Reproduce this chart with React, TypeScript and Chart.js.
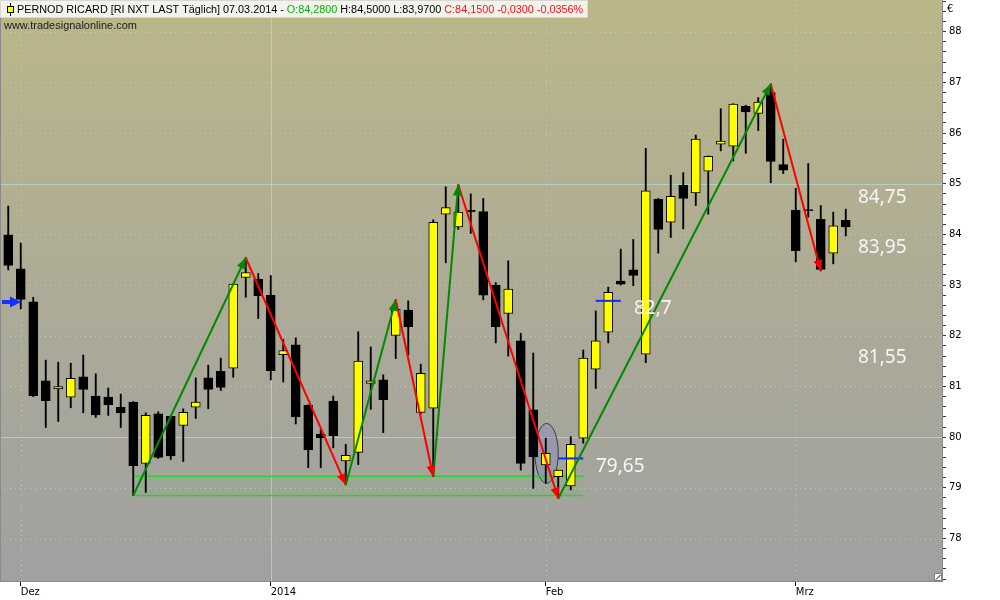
import React, { useEffect, useRef } from 'react';
import { Chart, registerables } from 'chart.js';

Chart.register(...registerables);

// ---- OHLC data (trading days 29.11.2013 – 07.03.2014) ----
const opens = [83.99, 83.32, 82.67, 81.11, 80.95, 80.79, 81.19, 80.81, 80.79, 80.59,
  80.69, 79.48, 80.46, 80.41, 80.23, 80.59, 81.17, 81.30, 81.36, 83.15,
  83.12, 82.80, 81.63, 81.82, 80.63, 80.06, 80.71, 79.53, 79.70, 81.06,
  81.13, 82.01, 82.51, 80.49, 80.57, 84.40, 84.15, 84.48, 84.45, 83.00,
  82.44, 81.90, 80.54, 79.45, 79.22, 79.04, 79.98, 81.34, 82.07, 83.08,
  83.30, 81.64, 84.70, 84.24, 84.97, 84.82, 85.25, 85.78, 85.74, 86.53,
  86.39, 86.80, 85.38, 84.48, 84.49, 84.30, 83.63, 84.28];
const highs = [84.56, 83.83, 82.76, 81.52, 81.48, 81.46, 81.62, 81.25, 80.97, 80.85,
  80.70, 80.48, 80.50, 80.42, 80.56, 81.17, 81.42, 81.56, 83.03, 83.54,
  83.23, 83.19, 81.93, 81.96, 80.64, 80.15, 80.81, 79.86, 82.08, 81.78,
  81.23, 82.71, 82.69, 81.44, 84.29, 84.94, 84.98, 84.80, 84.71, 83.05,
  83.48, 82.05, 81.66, 79.98, 79.35, 80.01, 81.72, 82.49, 82.96, 83.71,
  83.90, 85.70, 84.71, 85.17, 85.22, 85.96, 85.55, 86.48, 86.58, 86.55,
  86.70, 86.97, 85.88, 84.91, 85.40, 84.57, 84.44, 84.50];
const lows = [83.30, 82.53, 80.80, 80.19, 80.31, 80.58, 80.48, 80.39, 80.43, 80.19,
  78.85, 78.91, 79.58, 79.56, 79.52, 80.37, 80.56, 80.92, 81.18, 82.76,
  82.34, 81.13, 81.09, 80.26, 79.40, 79.40, 79.79, 79.06, 79.46, 80.55,
  80.09, 81.55, 81.62, 80.46, 79.22, 83.44, 84.10, 84.02, 82.71, 81.86,
  81.60, 79.35, 78.99, 79.09, 78.79, 78.96, 79.88, 80.96, 81.86, 83.00,
  82.99, 81.47, 83.63, 83.94, 84.11, 84.57, 84.40, 85.65, 85.45, 85.60,
  86.05, 85.02, 85.20, 83.46, 84.34, 83.28, 83.42, 83.97];
const closes = [83.39, 82.72, 80.82, 80.72, 81.00, 81.16, 80.94, 80.44, 80.64, 80.48,
  79.44, 80.43, 79.60, 79.63, 80.49, 80.69, 80.94, 80.98, 83.02, 83.25,
  82.79, 81.31, 81.71, 80.40, 79.75, 79.99, 80.03, 79.64, 81.50, 81.11,
  80.74, 82.52, 82.18, 81.26, 84.24, 84.53, 84.44, 84.45, 82.80, 82.18,
  82.92, 79.48, 79.61, 79.68, 79.35, 79.86, 81.56, 81.90, 82.86, 83.02,
  83.19, 84.86, 84.10, 84.75, 84.71, 85.88, 85.54, 85.84, 86.57, 86.42,
  86.61, 85.44, 85.27, 83.68, 84.47, 83.31, 84.17, 84.15];

// ---- axes ----
const xTickIndex = [1, 21, 43, 63];
const xTickLabels = ['Dez', '2014', 'Feb', 'Mrz'];
const xMin = -0.66;
const xMax = 74.7;
const yMin = 77.162;
const yMax = 88.626;
const yGridValues = [78, 79, 80, 81, 82, 83, 84, 85, 86, 87, 88];

// ---- zig-zag swings ----
const zigzagIndex = [10, 19, 27, 31, 34, 36, 44, 61, 65];
const zigzagValue = [78.85, 83.54, 79.06, 82.71, 79.22, 84.98, 78.79, 86.97, 83.28];

// ---- support band ----
const supportValues = [79.23, 78.85];
const supportFrom = 10;
const supportTo = 46;

// ---- blue level marks ----
const levelValues = [79.58, 82.69];
const levelFrom = [44, 47];
const levelTo = [46, 49];

// ---- text notes ----
const noteTexts = ['84,75', '83,95', '81,55', '79,65', '82,7'];
const noteIndex = [67.98, 67.98, 67.98, 47.02, 50.06];
const noteValues = [84.76, 83.77, 81.60, 79.45, 82.57];

// ---- markers ----
const markerFrom = -0.5;
const markerTo = 1.02;
const markerValue = 82.67;
const ellipseIndex = [42.14, 44.0];
const ellipseValue = [80.27, 79.09];

const titleParts = [
  { text: 'PERNOD RICARD [RI NXT LAST Täglich] 07.03.2014 - ', color: '#000000' },
  { text: 'O:84,2800', color: '#00b400' },
  { text: ' H:84,5000 L:83,9700 ', color: '#000000' },
  { text: 'C:84,1500 -0,0300 -0,0356%', color: '#ff1010' },
];
const siteText = 'www.tradesignalonline.com';

function arrowHead(ctx: CanvasRenderingContext2D, x0: number, y0: number, x1: number, y1: number, color: string, len = 11, hw = 4.5) {
  const dx = x1 - x0, dy = y1 - y0;
  const L = Math.hypot(dx, dy) || 1;
  const ux = dx / L, uy = dy / L;
  const bx = x1 - ux * len, by = y1 - uy * len;
  ctx.beginPath();
  ctx.moveTo(x1, y1);
  ctx.lineTo(bx - uy * hw, by + ux * hw);
  ctx.lineTo(bx + uy * hw, by - ux * hw);
  ctx.closePath();
  ctx.fillStyle = color;
  ctx.fill();
}

const decorPlugin = {
  id: 'decor',
  beforeDraw(chart: any) {
    const { ctx, chartArea: a } = chart;
    ctx.save();
    ctx.fillStyle = '#ffffff';
    ctx.fillRect(0, 0, chart.width, chart.height);
    const g = ctx.createLinearGradient(0, a.top, 0, a.bottom);
    g.addColorStop(0, '#bbb688');
    g.addColorStop(0.5, '#adab97');
    g.addColorStop(1, '#a0a0a0');
    ctx.fillStyle = g;
    ctx.fillRect(a.left, a.top, a.right - a.left, a.bottom - a.top);
    ctx.restore();
  },
  beforeDatasetsDraw(chart: any) {
    const { ctx, chartArea: a, scales } = chart;
    const xs = scales.x, ys = scales.y;
    ctx.save();
    ctx.lineWidth = 1;
    const solidColor = 'rgba(175,222,205,0.75)';
    const dotColor = 'rgba(185,222,210,0.7)';
    yGridValues.forEach((v) => {
      const y = Math.round(ys.getPixelForValue(v)) + 0.5;
      const solid = v % 5 === 0;
      ctx.setLineDash(solid ? [] : [1, 4]);
      ctx.strokeStyle = solid ? solidColor : dotColor;
      ctx.beginPath();
      ctx.moveTo(a.left, y);
      ctx.lineTo(a.right, y);
      ctx.stroke();
    });
    xTickIndex.forEach((v, i) => {
      const x = Math.round(xs.getPixelForValue(v)) + 0.5;
      const solid = xTickLabels[i] === '2014';
      ctx.setLineDash(solid ? [] : [1, 4]);
      ctx.strokeStyle = solid ? solidColor : dotColor;
      ctx.beginPath();
      ctx.moveTo(x, a.top);
      ctx.lineTo(x, a.bottom);
      ctx.stroke();
    });
    ctx.setLineDash([]);
    // highlight ellipse
    const ex0 = xs.getPixelForValue(ellipseIndex[0]);
    const ex1 = xs.getPixelForValue(ellipseIndex[1]);
    const ey0 = ys.getPixelForValue(ellipseValue[0]);
    const ey1 = ys.getPixelForValue(ellipseValue[1]);
    ctx.beginPath();
    ctx.ellipse((ex0 + ex1) / 2, (ey0 + ey1) / 2, Math.abs(ex1 - ex0) / 2, Math.abs(ey1 - ey0) / 2, 0, 0, Math.PI * 2);
    ctx.fillStyle = 'rgba(135,138,190,0.45)';
    ctx.fill();
    ctx.strokeStyle = '#3a3a48';
    ctx.lineWidth = 1;
    ctx.stroke();
    ctx.restore();
  },
  afterDatasetsDraw(chart: any) {
    const { ctx, scales } = chart;
    const xs = scales.x, ys = scales.y;
    ctx.save();
    for (let s = 0; s < zigzagIndex.length - 1; s++) {
      const x0 = xs.getPixelForValue(zigzagIndex[s]);
      const y0 = ys.getPixelForValue(zigzagValue[s]);
      const x1 = xs.getPixelForValue(zigzagIndex[s + 1]);
      const y1 = ys.getPixelForValue(zigzagValue[s + 1]);
      const up = zigzagValue[s + 1] > zigzagValue[s];
      arrowHead(ctx, x0, y0, x1, y1, up ? '#008a00' : '#ff0000');
    }
    // blue marker arrow
    const mx0 = xs.getPixelForValue(markerFrom);
    const mx1 = xs.getPixelForValue(markerTo);
    const my = Math.round(ys.getPixelForValue(markerValue));
    ctx.strokeStyle = '#1432ff';
    ctx.lineWidth = 4;
    ctx.beginPath();
    ctx.moveTo(mx0, my);
    ctx.lineTo(mx1 - 8, my);
    ctx.stroke();
    arrowHead(ctx, mx0, my, mx1, my, '#1432ff', 11, 5.5);
    // notes
    ctx.fillStyle = '#f6f6f6';
    ctx.font = '19px "Noto Sans", "DejaVu Sans", sans-serif';
    ctx.textAlign = 'left';
    ctx.textBaseline = 'alphabetic';
    noteTexts.forEach((t, i) => {
      const x = xs.getPixelForValue(noteIndex[i]);
      const y = ys.getPixelForValue(noteValues[i]);
      ctx.fillText(t, x, y + 7);
    });
    ctx.restore();
  },
  afterDraw(chart: any) {
    const { ctx, chartArea: a } = chart;
    ctx.save();
    // plot frame
    ctx.strokeStyle = '#8a8a8a';
    ctx.lineWidth = 1;
    ctx.beginPath();
    ctx.moveTo(a.left + 0.5, a.top);
    ctx.lineTo(a.left + 0.5, a.bottom + 0.5);
    ctx.lineTo(a.right + 0.5, a.bottom + 0.5);
    ctx.lineTo(a.right + 0.5, a.top);
    ctx.stroke();
    // corner icon
    ctx.fillStyle = '#ffffff';
    ctx.fillRect(a.right - 8, a.bottom - 8, 8, 8);
    ctx.strokeStyle = '#808080';
    ctx.strokeRect(a.right - 7.5, a.bottom - 7.5, 7, 7);
    ctx.strokeStyle = '#000';
    ctx.beginPath();
    ctx.moveTo(a.right - 6, a.bottom - 1.5);
    ctx.lineTo(a.right - 1.5, a.bottom - 6);
    ctx.stroke();
    // header box
    const boxW = 588, boxH = 18;
    ctx.fillStyle = '#f3f3ee';
    ctx.fillRect(0, 0, boxW, boxH);
    ctx.strokeStyle = '#d8d8d0';
    ctx.strokeRect(0.5, 0.5, boxW - 1, boxH - 1);
    // candle icon
    ctx.strokeStyle = '#000';
    ctx.beginPath();
    ctx.moveTo(10.5, 3);
    ctx.lineTo(10.5, 16);
    ctx.stroke();
    ctx.fillStyle = '#ffff00';
    ctx.fillRect(7.5, 6.5, 6, 6);
    ctx.strokeRect(7.5, 6.5, 6, 6);
    // title text fitted to width
    const family = '"Liberation Sans", Arial, sans-serif';
    ctx.font = `11px ${family}`;
    const full = titleParts.map((p) => p.text).join('');
    const w = ctx.measureText(full).width;
    const size = 11 * 567 / w;
    ctx.font = `${size}px ${family}`;
    ctx.textBaseline = 'middle';
    ctx.textAlign = 'left';
    let x = 17;
    titleParts.forEach((p) => {
      ctx.fillStyle = p.color;
      ctx.fillText(p.text, x, 10);
      x += ctx.measureText(p.text).width;
    });
    ctx.font = `11px ${family}`;
    const sw = ctx.measureText(siteText).width;
    ctx.font = `${11 * 133 / sw}px ${family}`;
    ctx.fillStyle = '#1a1a1a';
    ctx.fillText(siteText, 4, 26);
    // currency sign
    ctx.font = '10px "DejaVu Sans", sans-serif';
    ctx.fillStyle = '#000';
    ctx.fillText('€', a.right + 5, 9);
    ctx.restore();
  },
};

export default function App() {
  const ref = useRef<HTMLCanvasElement>(null);
  useEffect(() => {
    const canvas = ref.current;
    if (!canvas) return;
    const n = opens.length;
    const idx = Array.from({ length: n }, (_, i) => i);
    const wickData = idx.map((i) => ({ x: i, y: [lows[i], highs[i]] }));
    const bodyData = idx.map((i) => ({ x: i, y: [opens[i], closes[i]] }));
    const bodyColors = idx.map((i) => (closes[i] >= opens[i] ? '#ffff00' : '#000000'));

    const datasets: any[] = [];
    // support band
    supportValues.forEach((v, k) => {
      datasets.push({
        type: 'line',
        data: [{ x: supportFrom, y: v }, { x: supportTo, y: v }],
        borderColor: '#30d030',
        borderWidth: 1.4,
        pointRadius: 0,
        fill: k === 0 ? '+1' : false,
        backgroundColor: 'rgba(60,200,60,0.08)',
        order: 10,
      });
    });
    datasets.push({
      type: 'bar',
      data: wickData,
      backgroundColor: '#000000',
      borderWidth: 0,
      barThickness: 1.2,
      grouped: false,
      order: 9,
    });
    datasets.push({
      type: 'bar',
      data: bodyData,
      backgroundColor: bodyColors,
      borderColor: '#000000',
      borderWidth: 1,
      borderSkipped: false,
      barThickness: 9,
      grouped: false,
      order: 8,
    });
    levelValues.forEach((v, k) => {
      datasets.push({
        type: 'line',
        data: [{ x: levelFrom[k], y: v }, { x: levelTo[k], y: v }],
        borderColor: '#0a2cff',
        borderWidth: 2,
        pointRadius: 0,
        fill: false,
        order: 3,
      });
    });
    for (let s = 0; s < zigzagIndex.length - 1; s++) {
      const up = zigzagValue[s + 1] > zigzagValue[s];
      datasets.push({
        type: 'line',
        data: [{ x: zigzagIndex[s], y: zigzagValue[s] }, { x: zigzagIndex[s + 1], y: zigzagValue[s + 1] }],
        borderColor: up ? '#008a00' : '#ff0000',
        borderWidth: 2,
        pointRadius: 0,
        fill: false,
        order: 1,
      });
    }

    const chart = new Chart(canvas, {
      type: 'bar',
      data: { datasets },
      options: {
        responsive: false,
        animation: false,
        events: [],
        layout: { padding: 0 },
        plugins: { legend: { display: false }, tooltip: { enabled: false }, title: { display: false } },
        scales: {
          x: {
            type: 'linear',
            min: xMin,
            max: xMax,
            offset: false,
            afterBuildTicks: (s: any) => { s.ticks = xTickIndex.map((v) => ({ value: v })); },
            afterFit: (s: any) => { s.height = 19; s.paddingLeft = 0; s.paddingRight = 0; s.paddingTop = 0; s.paddingBottom = 0; },
            ticks: {
              autoSkip: false,
              maxRotation: 0,
              minRotation: 0,
              align: 'start',
              padding: 0,
              color: '#000010',
              font: { family: '"DejaVu Sans", sans-serif', size: 10 },
              callback: (v: any) => { const k = xTickIndex.indexOf(Number(v)); return k >= 0 ? xTickLabels[k] : ''; },
            },
            grid: { drawOnChartArea: false, drawTicks: true, tickLength: 5, color: '#000000', offset: false },
            border: { display: true, color: '#8a8a8a' },
          },
          y: {
            type: 'linear',
            position: 'right',
            min: yMin,
            max: yMax,
            afterBuildTicks: (s: any) => {
              const t: any[] = [];
              for (let k = 386; k <= 443; k++) t.push({ value: k / 5 });
              s.ticks = t;
            },
            afterFit: (s: any) => { s.width = 58; s.paddingLeft = 0; s.paddingRight = 0; s.paddingTop = 0; s.paddingBottom = 0; },
            ticks: {
              autoSkip: false,
              padding: 3,
              color: '#000010',
              font: { family: '"DejaVu Sans", sans-serif', size: 10 },
              callback: (v: any) => { const n2 = Number(v); return Math.abs(n2 - Math.round(n2)) < 1e-6 ? String(Math.round(n2)) : ''; },
            },
            grid: { drawOnChartArea: false, drawTicks: true, tickLength: 4, color: '#333333' },
            border: { display: true, color: '#8a8a8a' },
          },
        },
      },
      plugins: [decorPlugin],
    } as any);
    return () => chart.destroy();
  }, []);
  return (
    <div style={{ position: 'fixed', left: 0, top: 0, width: 1000, height: 600, background: '#ffffff' }}>
      <canvas ref={ref} width={1000} height={600} style={{ display: 'block', width: 1000, height: 600 }} />
    </div>
  );
}
